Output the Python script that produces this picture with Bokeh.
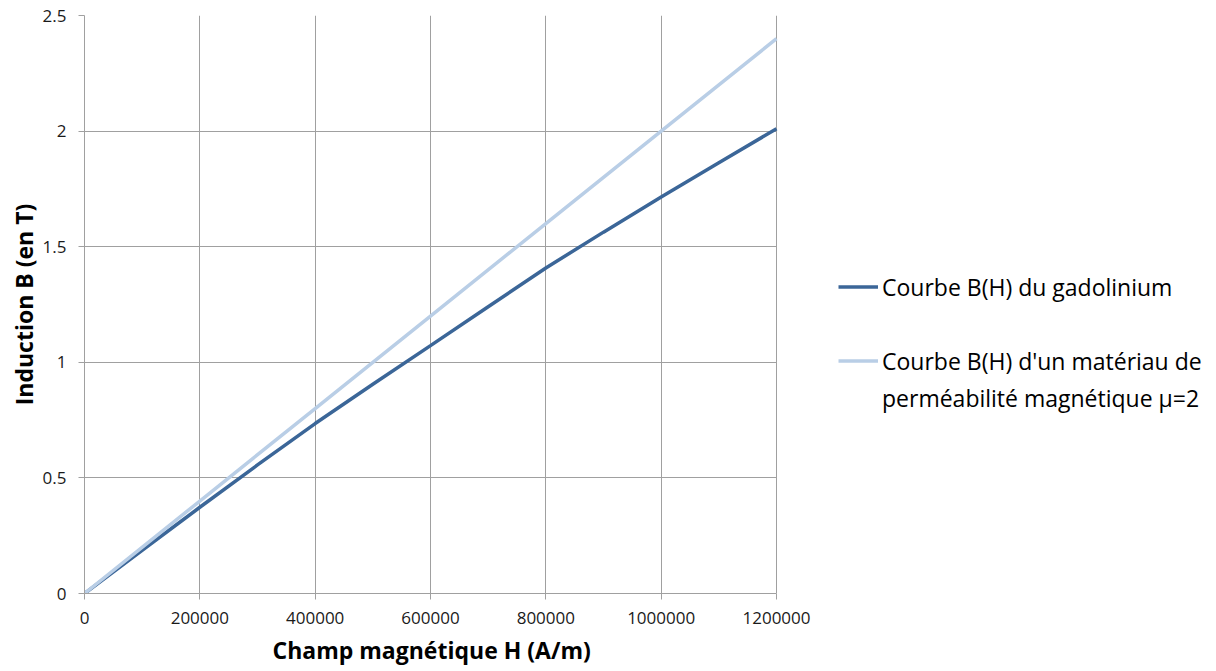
from bokeh.plotting import figure
from bokeh.models import FixedTicker, Legend, LegendItem, Title
from bokeh.embed import file_html
from bokeh.resources import INLINE

# ---- data ----
H_gado = [0, 100000, 200000, 300000, 400000, 500000, 600000, 700000,
          800000, 900000, 1000000, 1100000, 1200000]
B_gado = [0, 0.187, 0.373, 0.556, 0.735, 0.905, 1.072, 1.24,
          1.408, 1.563, 1.715, 1.863, 2.01]
H_mu = [0, 200000, 400000, 600000, 800000, 1000000, 1200000]
B_mu = [0, 0.4, 0.8, 1.2, 1.6, 2.0, 2.4]

x_ticks = [0, 200000, 400000, 600000, 800000, 1000000, 1200000]
x_tick_labels = ["0", "200000", "400000", "600000", "800000", "1000000", "1200000"]
y_ticks = [0, 0.5, 1, 1.5, 2, 2.5]
y_tick_labels = ["0", "0.5", "1", "1.5", "2", "2.5"]

x_title = "Champ magnétique H (A/m)"
y_title = "Induction B (en T)"
label_gado = "Courbe B(H) du gadolinium"
label_mu_1 = "Courbe B(H) d'un matériau de"
label_mu_2 = "perméabilité magnétique μ=2"

DARK = "#3b6698"
LIGHT = "#b9cee6"
GRID = "#a0a0a0"
FONT = "Open Sans"

# layout (pixels): the plotting area spans LEFT..PLOT_RIGHT; the legend
# sits to the right of it, inside the same (extended) frame.
W, H = 1216, 671
LEFT, PLOT_RIGHT = 84, 776
x_min, x_max = x_ticks[0], x_ticks[-1]
x_view_end = x_max * (W - LEFT) / (PLOT_RIGHT - LEFT)

p = figure(width=W, height=H, output_backend="svg", toolbar_location=None,
           x_range=(x_min, x_view_end), y_range=(y_ticks[0], y_ticks[-1]),
           min_border_left=LEFT, min_border_right=0, min_border_top=15,
           min_border_bottom=78)
p.background_fill_color = "white"
p.border_fill_color = "white"
p.outline_line_color = None

for ax in (p.xaxis[0], p.yaxis[0]):
    ax.axis_line_color = GRID
    ax.major_tick_line_color = GRID
    ax.major_tick_in = 0
    ax.major_tick_out = 6
    ax.minor_tick_line_color = None
    ax.major_label_text_font = FONT
    ax.major_label_text_font_size = "17px"
    ax.major_label_text_color = "#1a1a1a"
    ax.axis_label_text_font = FONT
    ax.axis_label_text_font_style = "bold"
    ax.axis_label_text_font_size = "23px"
    ax.axis_label_text_color = "#000000"

p.xaxis.bounds = (x_min, x_max)
p.xaxis.ticker = FixedTicker(ticks=x_ticks)
p.xaxis.major_label_overrides = {t: l for t, l in zip(x_ticks, x_tick_labels)}
p.yaxis.ticker = FixedTicker(ticks=y_ticks)
p.yaxis.major_label_overrides = {t: l for t, l in zip(y_ticks, y_tick_labels)}
p.yaxis.axis_label = y_title
p.xaxis.major_label_standoff = 12
p.yaxis.major_label_standoff = 12
p.yaxis.axis_label_standoff = 0

# x-axis title centred under the plotting area (not under the legend)
x_title_model = Title(text=x_title, align="left", offset=188, standoff=11,
                      text_font=FONT, text_font_style="bold",
                      text_font_size="23px", text_line_height=0.8,
                      text_color="#000000")
p.add_layout(x_title_model, "below")

p.xgrid.ticker = FixedTicker(ticks=x_ticks)
p.ygrid.ticker = FixedTicker(ticks=y_ticks)
p.ygrid.cross_bounds = (x_min, x_max)
p.grid.grid_line_color = GRID
p.grid.grid_line_width = 1

r_gado = p.line(H_gado, B_gado, line_color=DARK, line_width=3.5)
r_mu = p.line(H_mu, B_mu, line_color=LIGHT, line_width=3.5)
r_blank = p.line([], [], line_color=LIGHT, line_alpha=0)

legend = Legend(
    items=[LegendItem(label=label_gado, renderers=[r_gado]),
           LegendItem(label=" ", renderers=[r_blank]),
           LegendItem(label=label_mu_1, renderers=[r_mu]),
           LegendItem(label=label_mu_2, renderers=[r_blank])],
    location=(838 - LEFT, 177), padding=0, margin=0, spacing=0,
    border_line_color=None, background_fill_alpha=0,
    glyph_width=40, glyph_height=37, label_height=37, label_standoff=4,
    label_text_font=FONT, label_text_font_size="23px",
    label_text_color="#000000")
p.add_layout(legend)

open("out.html", "w").write(file_html(p, INLINE))
